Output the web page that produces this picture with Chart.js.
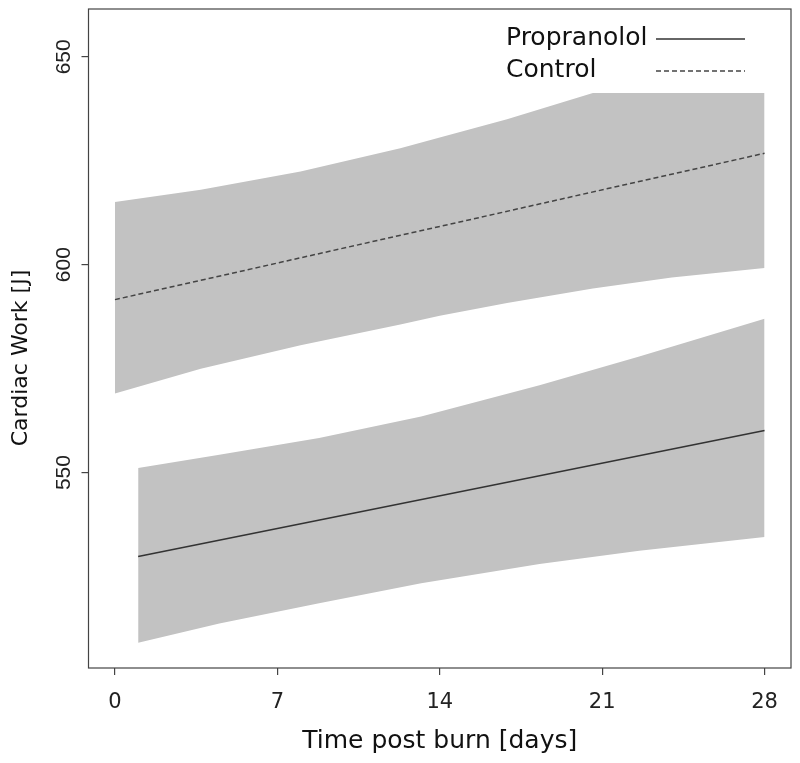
<!DOCTYPE html>
<html>
<head>
<meta charset="utf-8">
<script src="https://cdn.jsdelivr.net/npm/chart.js@4.4.1/dist/chart.umd.min.js"></script>
<style>
  html, body { margin: 0; padding: 0; background: #fff; }
  #wrap { width: 800px; height: 763px; }
</style>
</head>
<body>
<div id="wrap"><canvas id="myChart"></canvas></div>
<script>
// ticks
var xTicks = [0, 7, 14, 21, 28];
var yTicks = [550, 600, 650];

// fitted lines
var controlDays = [0, 28];
var controlFit = [591.6, 626.8];
var propDays = [1, 28];
var propFit = [529.8, 560.1];

// confidence bands (upper control band is cut at the top of the graph)
var controlBandDays = [0, 3.7, 8, 12.3, 14, 16.9, 20.6, 24, 28];
var controlUpper = [615.1, 618.0, 622.4, 628.0, 630.6, 635.0, 641.3, 641.3, 641.3];
var controlLower = [569.0, 575.0, 580.6, 585.6, 587.7, 590.8, 594.3, 596.9, 599.2];
var propBandDays = [1, 4.5, 8.8, 13.2, 18.3, 22.6, 28];
var propUpper = [551.1, 554.3, 558.3, 563.5, 571.0, 577.9, 587.0];
var propLower = [509.1, 513.7, 518.6, 523.4, 528.0, 531.2, 534.5];

var bandColor = '#c2c2c2';
var axisColor = '#444';

function pts(xs, ys) {
  return xs.map(function (x, i) { return { x: x, y: ys[i] }; });
}

function band(xs, ys, fill) {
  return {
    data: pts(xs, ys),
    borderWidth: 0,
    borderColor: bandColor,
    backgroundColor: bandColor,
    pointRadius: 0,
    tension: 0,
    fill: fill,
    order: 2,
    isBand: true
  };
}

// frame, y title and legend
var extras = {
  id: 'extras',
  afterDatasetsDraw: function (chart) {
    var ctx = chart.ctx;
    var a = chart.chartArea;
    ctx.save();
    ctx.strokeStyle = axisColor;
    ctx.lineWidth = 1.2;
    ctx.strokeRect(a.left, a.top, a.right - a.left, a.bottom - a.top);
    ctx.restore();
  },
  afterDraw: function (chart) {
    var ctx = chart.ctx;
    ctx.save();
    ctx.fillStyle = '#111';
    ctx.font = '22px "DejaVu Sans"';
    ctx.textAlign = 'center';
    ctx.textBaseline = 'middle';
    ctx.translate(21, 358);
    ctx.rotate(-Math.PI / 2);
    ctx.fillText('Cardiac Work [J]', 0, 0);
    ctx.restore();

    var items = chart.data.datasets.filter(function (d) { return !d.isBand; });
    var rows = [38, 70];
    ctx.save();
    ctx.font = '25px "DejaVu Sans"';
    ctx.textAlign = 'left';
    ctx.textBaseline = 'middle';
    items.forEach(function (d, i) {
      ctx.fillStyle = '#111';
      ctx.fillText(d.label, 506, rows[i]);
      ctx.strokeStyle = d.borderColor;
      ctx.lineWidth = d.borderWidth;
      ctx.setLineDash(d.borderDash || []);
      ctx.beginPath();
      ctx.moveTo(656, rows[i] + 1);
      ctx.lineTo(745, rows[i] + 1);
      ctx.stroke();
    });
    ctx.restore();
  }
};

const ctx = document.getElementById('myChart');

new Chart(ctx, {
  type: 'line',
  data: {
    datasets: [
      band(controlBandDays, controlUpper, '+1'),
      band(controlBandDays, controlLower, false),
      band(propBandDays, propUpper, '+1'),
      band(propBandDays, propLower, false),
      {
        label: 'Propranolol',
        data: pts(propDays, propFit),
        borderColor: '#333',
        borderWidth: 1.5,
        pointRadius: 0,
        fill: false,
        order: 1
      },
      {
        label: 'Control',
        data: pts(controlDays, controlFit),
        borderColor: '#444',
        borderWidth: 1.5,
        borderDash: [5, 3],
        pointRadius: 0,
        fill: false,
        order: 1
      }
    ]
  },
  options: {
    responsive: true,
    maintainAspectRatio: false,
    animation: false,
    layout: { padding: { top: 9, right: 9, left: 0, bottom: 0 } },
    plugins: {
      legend: { display: false },
      tooltip: { enabled: false }
    },
    scales: {
      x: {
        type: 'linear',
        min: -1.14,
        max: 29.14,
        afterBuildTicks: function (axis) {
          axis.ticks = xTicks.map(function (v) { return { value: v }; });
        },
        afterFit: function (axis) {
          axis.height = 95;
          axis.paddingLeft = 0;
          axis.paddingRight = 0;
        },
        border: { display: false },
        grid: {
          drawOnChartArea: false,
          drawTicks: true,
          tickLength: 7,
          color: axisColor,
          lineWidth: 1.2
        },
        ticks: {
          color: '#222',
          padding: 15,
          maxRotation: 0,
          font: { family: 'DejaVu Sans', size: 21 }
        },
        title: {
          display: true,
          text: 'Time post burn [days]',
          color: '#111',
          padding: { top: 0, bottom: 7 },
          font: { family: 'DejaVu Sans', size: 25 }
        }
      },
      y: {
        min: 503,
        max: 661.5,
        afterBuildTicks: function (axis) {
          axis.ticks = yTicks.map(function (v) { return { value: v }; });
        },
        afterFit: function (axis) {
          axis.width = 88.5;
          axis.paddingTop = 0;
          axis.paddingBottom = 0;
        },
        border: { display: false },
        grid: {
          drawOnChartArea: false,
          drawTicks: true,
          tickLength: 7,
          color: axisColor,
          lineWidth: 1.2
        },
        ticks: {
          color: '#222',
          padding: 0,
          minRotation: 90,
          maxRotation: 90,
          crossAlign: 'center',
          font: { family: 'Liberation Sans', size: 21 }
        }
      }
    }
  },
  plugins: [extras]
});
</script>
</body>
</html>
